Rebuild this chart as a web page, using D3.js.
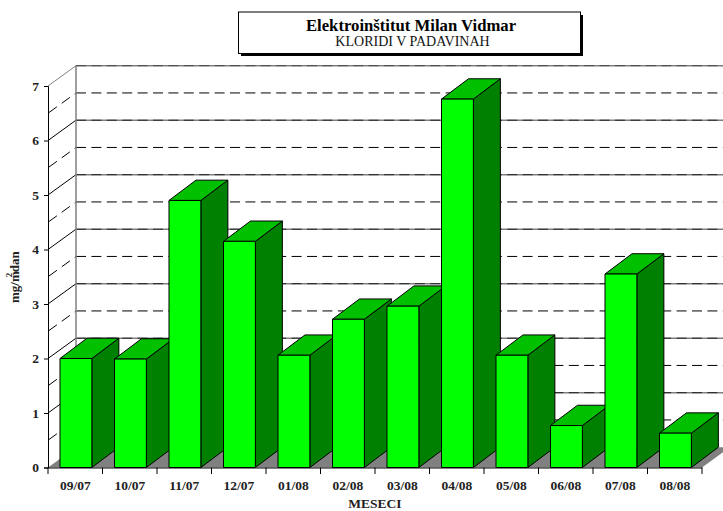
<!DOCTYPE html>
<html><head><meta charset="utf-8">
<script src="https://cdn.jsdelivr.net/npm/d3@7"></script>
<style>html,body{margin:0;padding:0;background:#fff}svg{display:block}text{font-family:"Liberation Serif",serif}</style>
</head><body><svg id="c" width="723" height="511"></svg>
<script>
const categories=["09/07","10/07","11/07","12/07","01/08","02/08","03/08","04/08","05/08","06/08","07/08","08/08"];
const values=[2.0,1.99,4.9,4.15,2.06,2.72,2.96,6.76,2.06,0.77,3.55,0.63];
const yTicks=[0,1,2,3,4,5,6,7];
const halfTicks=[0.5,1.5,2.5,3.5,4.5,5.5,6.5];
const titleMain="Elektroinštitut Milan Vidmar";
const titleSub="KLORIDI V PADAVINAH";
const xTitle="MESECI";

const svg=d3.select("#c");
const x=d3.scaleBand().domain(categories).range([48,702]).paddingInner(0.415).paddingOuter(0.2075).align(0.53);
const y=d3.scaleLinear().domain([0,7]).range([467.5,86]);
const DX=28,DY=-20.3,bx=27,by=-20.3,W=723;

// floor
svg.append("polygon").attr("fill","#808080")
 .attr("points",[[48,y(0)],[702,y(0)],[702+DX,y(0)+DY],[48+DX,y(0)+DY]].join(" "));

// back-wall grid
const gridG=svg.append("g").attr("fill","none");
yTicks.forEach(t=>{
  const yy=y(t);
  if(t>0){
    gridG.append("line").attr("x1",48+DX).attr("x2",W).attr("y1",yy+DY).attr("y2",yy+DY).attr("stroke","#808080").attr("stroke-width",1.4);
    gridG.append("line").attr("x1",48+DX).attr("x2",W).attr("y1",yy+DY).attr("y2",yy+DY).attr("stroke","#000").attr("stroke-width",1).attr("stroke-dasharray","10 5.4").attr("opacity",t==7?0.45:0.75);
    gridG.append("line").attr("x1",48).attr("x2",48+DX).attr("y1",yy).attr("y2",yy+DY).attr("stroke",t==7?"#808080":"#000").attr("stroke-width",1);
  }
});
halfTicks.forEach(t=>{
  const yy=y(t);
  gridG.append("line").attr("x1",48+DX).attr("x2",W).attr("y1",yy+DY).attr("y2",yy+DY).attr("stroke","#000").attr("stroke-dasharray","10 5.4");
  gridG.append("line").attr("x1",48).attr("x2",48+DX).attr("y1",yy).attr("y2",yy+DY).attr("stroke","#000").attr("stroke-dasharray","10 6").attr("stroke-dashoffset",-1);
});
gridG.append("line").attr("x1",48+DX).attr("x2",48+DX).attr("y1",y(7)+DY).attr("y2",y(0)+DY).attr("stroke","#808080").attr("stroke-width",1.5);

// bars
const bars=svg.append("g").attr("stroke","#000").attr("stroke-width",1).attr("stroke-linejoin","round")
 .selectAll("g").data(categories.map((c,i)=>({c,v:values[i]}))).join("g");
bars.append("polygon").attr("fill","#008000").attr("points",d=>{
  const r=x(d.c)+x.bandwidth(),t=y(d.v),b=y(0);
  return [[r,t],[r+bx,t+by],[r+bx,b+by],[r,b]].join(" ");});
bars.append("polygon").attr("fill","#00c000").attr("points",d=>{
  const l=x(d.c),r=l+x.bandwidth(),t=y(d.v);
  return [[l,t],[l+bx,t+by],[r+bx,t+by],[r,t]].join(" ");});
bars.append("rect").attr("fill","#00ff00").attr("x",d=>x(d.c)).attr("y",d=>y(d.v)).attr("width",x.bandwidth()).attr("height",d=>y(0)-y(d.v));

// axes
const yAxis=d3.axisLeft(y).tickValues(yTicks).tickSize(4).tickPadding(5).tickFormat(d3.format("d"));
const gy=svg.append("g").attr("transform","translate(48,0)").call(yAxis);
gy.selectAll("text").attr("font-family","Liberation Serif").attr("font-weight","bold").attr("font-size",13.5).attr("fill","#222");
const xb=d3.scaleBand().domain(categories).range([48,702]);
const xAxis=d3.axisBottom(xb).tickSize(0).tickPadding(9);
const gx=svg.append("g").attr("transform",`translate(0,${y(0)})`).call(xAxis);
gx.selectAll("text").attr("font-family","Liberation Serif").attr("font-weight","bold").attr("font-size",13.5).attr("y",22).attr("dy",0).attr("fill","#222");
gx.selectAll("g.tick").select("line").remove();
gx.selectAll("line.b").data(d3.range(13)).join("line").attr("class","b")
 .attr("x1",i=>48+i*xb.step()).attr("x2",i=>48+i*xb.step()).attr("y1",0).attr("y2",6.5).attr("stroke","#000");

// axis titles
svg.append("text").attr("x",375).attr("y",508).attr("text-anchor","middle").attr("font-weight","bold").attr("font-size",13.5).attr("fill","#222").text(xTitle);
const yl=svg.append("text").attr("transform","translate(18.5,303) rotate(-90)").attr("text-anchor","start").attr("font-weight","bold").attr("font-size",13).attr("fill","#222");
yl.append("tspan").text("mg/m");
yl.append("tspan").attr("dx",-6).attr("dy",-7).attr("font-size",9).text("2");
yl.append("tspan").attr("dy",7).attr("dx",0.5).text("dan");

// title box
svg.append("rect").attr("x",241).attr("y",15).attr("width",342).attr("height",41).attr("fill","#000");
svg.append("rect").attr("x",238.5).attr("y",12).attr("width",342).attr("height",41.5).attr("fill","#fff").attr("stroke","#000");
svg.append("text").attr("x",411).attr("y",31).attr("text-anchor","middle").attr("font-weight","bold").attr("font-size",16.7).attr("fill","#000").text(titleMain);
svg.append("text").attr("x",412.5).attr("y",45.5).attr("text-anchor","middle").attr("font-size",14).attr("fill","#111").text(titleSub);
</script></body></html>
